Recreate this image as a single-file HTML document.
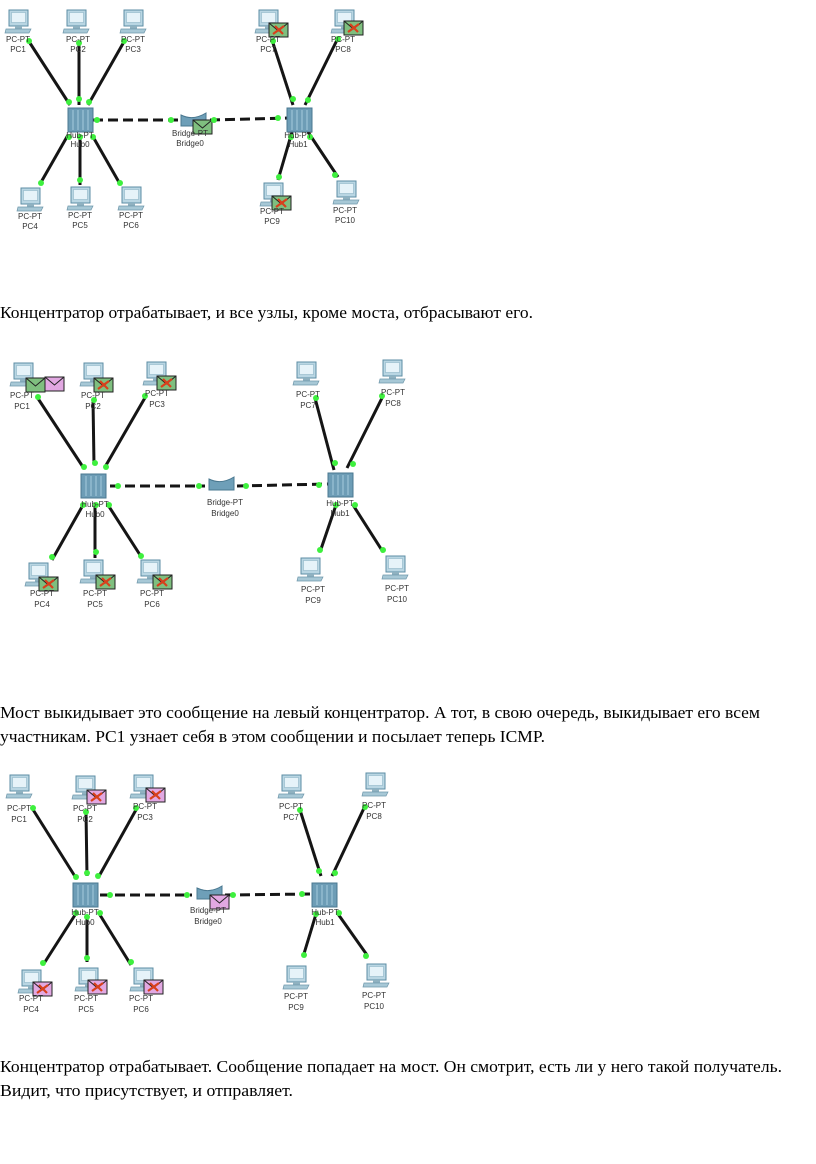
<!DOCTYPE html>
<html><head><meta charset="utf-8"><style>
html,body{margin:0;padding:0;background:#fff;}
svg{display:block}
.l{font-family:"Liberation Sans",sans-serif;font-size:8px;fill:#333;text-anchor:middle}
.t{font-family:"Liberation Serif","Noto Serif CJK SC",serif;font-size:17px;fill:#000}
.w{stroke:#151515;stroke-width:3;fill:none}
.d{stroke:#151515;stroke-width:3;fill:none;stroke-dasharray:10 5}
.g{fill:#3ef03e}
</style></head><body>
<svg width="816" height="1164" viewBox="0 0 816 1164" xmlns="http://www.w3.org/2000/svg">
<defs>
<g id="pc">
<rect x="4" y="0" width="19" height="16" fill="#b9d6e3" stroke="#5d8ea5"/>
<rect x="6.5" y="2.5" width="14" height="10" fill="#e6f3f9" stroke="#8fb5c7" stroke-width="0.6"/>
<rect x="10" y="16" width="7" height="3" fill="#8fb1c0"/>
<polygon points="1,19 26,19 24,23 0,23" fill="#a7c8d6" stroke="#6f97aa" stroke-width="0.7"/>
</g>
<g id="hub">
<rect x="0" y="0" width="25" height="24" fill="#6d9db6" stroke="#4a7890"/>
<path d="M5 2v20M10 2v20M15 2v20M20 2v20" stroke="#9cc3d6" stroke-width="1.2"/>
</g>
<g id="br">
<path d="M0 2 Q12 8 25 0 L25 13 L0 13 Z" fill="#6e9fb8" stroke="#4a7890"/>
</g>
<g id="eg"><rect x="0" y="0" width="19" height="14" fill="#7fbf7f" stroke="#222"/><path d="M0 0L9.5 8L19 0" stroke="#222" fill="none"/></g>
<g id="egx"><use href="#eg"/><path d="M4 11L15 3M6 3L14 11" stroke="#d8401c" stroke-width="2.2"/></g>
<g id="ep"><rect x="0" y="0" width="19" height="14" fill="#e2a8e2" stroke="#222"/><path d="M0 0L9.5 8L19 0" stroke="#222" fill="none"/></g>
<g id="epx"><use href="#ep"/><path d="M4 11L15 3M6 3L14 11" stroke="#d8401c" stroke-width="2.2"/></g>
</defs>

<!-- Diagram 1 -->
<g>
<line class="w" x1="28" y1="40" x2="70" y2="105"/>
<line class="w" x1="79" y1="42" x2="79" y2="105"/>
<line class="w" x1="125" y1="40" x2="88" y2="105"/>
<line class="w" x1="68" y1="135" x2="40" y2="184"/>
<line class="w" x1="80" y1="135" x2="80" y2="185"/>
<line class="w" x1="92" y1="135" x2="120" y2="184"/>
<line class="d" x1="93" y1="120" x2="180" y2="120"/>
<line class="d" x1="210" y1="120" x2="288" y2="118"/>
<line class="w" x1="293" y1="105" x2="272" y2="40"/>
<line class="w" x1="305" y1="105" x2="338" y2="38"/>
<line class="w" x1="292" y1="132" x2="278" y2="180"/>
<line class="w" x1="308" y1="132" x2="338" y2="177"/>
<use href="#pc" x="5" y="10"/><use href="#pc" x="63" y="10"/><use href="#pc" x="120" y="10"/>
<use href="#pc" x="255" y="10"/><use href="#pc" x="331" y="10"/>
<use href="#pc" x="17" y="188"/><use href="#pc" x="67" y="187"/><use href="#pc" x="118" y="187"/>
<use href="#pc" x="260" y="183"/><use href="#pc" x="333" y="181"/>
<use href="#hub" x="68" y="108"/><use href="#hub" x="287" y="108"/>
<use href="#br" x="181" y="113"/>
<use href="#eg" x="193" y="120"/>
<use href="#egx" x="269" y="23"/><use href="#egx" x="344" y="21"/><use href="#egx" x="272" y="196"/>
<g class="g"><circle cx="29" cy="41" r="3"/><circle cx="79" cy="43" r="3"/><circle cx="124" cy="41" r="3"/>
<circle cx="69" cy="102" r="3"/><circle cx="79" cy="99" r="3"/><circle cx="89" cy="102" r="3"/>
<circle cx="97" cy="120" r="3"/><circle cx="171" cy="120" r="3"/><circle cx="214" cy="120" r="3"/><circle cx="278" cy="118" r="3"/>
<circle cx="69" cy="137" r="3"/><circle cx="80" cy="137" r="3"/><circle cx="93" cy="137" r="3"/>
<circle cx="41" cy="183" r="3"/><circle cx="80" cy="180" r="3"/><circle cx="120" cy="183" r="3"/>
<circle cx="273" cy="41" r="3"/><circle cx="338" cy="39" r="3"/><circle cx="293" cy="99" r="3"/><circle cx="308" cy="100" r="3"/>
<circle cx="279" cy="177" r="3"/><circle cx="335" cy="175" r="3"/><circle cx="291" cy="137" r="3"/><circle cx="310" cy="137" r="3"/></g>
<text class="l" x="18" y="42">PC-PT</text><text class="l" x="18" y="52">PC1</text>
<text class="l" x="78" y="42">PC-PT</text><text class="l" x="78" y="52">PC2</text>
<text class="l" x="133" y="42">PC-PT</text><text class="l" x="133" y="52">PC3</text>
<text class="l" x="268" y="42">PC-PT</text><text class="l" x="268" y="52">PC7</text>
<text class="l" x="343" y="42">PC-PT</text><text class="l" x="343" y="52">PC8</text>
<text class="l" x="80" y="138">Hub-PT</text><text class="l" x="80" y="147">Hub0</text>
<text class="l" x="190" y="136">Bridge-PT</text><text class="l" x="190" y="146">Bridge0</text>
<text class="l" x="298" y="138">Hub-PT</text><text class="l" x="298" y="147">Hub1</text>
<text class="l" x="30" y="219">PC-PT</text><text class="l" x="30" y="229">PC4</text>
<text class="l" x="80" y="218">PC-PT</text><text class="l" x="80" y="228">PC5</text>
<text class="l" x="131" y="218">PC-PT</text><text class="l" x="131" y="228">PC6</text>
<text class="l" x="272" y="214">PC-PT</text><text class="l" x="272" y="224">PC9</text>
<text class="l" x="345" y="213">PC-PT</text><text class="l" x="345" y="223">PC10</text>
</g>

<text class="t" x="0" y="318" textLength="533" lengthAdjust="spacingAndGlyphs">Концентратор отрабатывает, и все узлы, кроме моста, отбрасывают его.</text>

<!-- Diagram 2 -->
<g>
<line class="w" x1="37" y1="397" x2="83" y2="467"/>
<line class="w" x1="93" y1="400" x2="94" y2="465"/>
<line class="w" x1="146" y1="396" x2="105" y2="467"/>
<line class="w" x1="83" y1="505" x2="52" y2="560"/>
<line class="w" x1="95" y1="505" x2="95" y2="558"/>
<line class="w" x1="108" y1="505" x2="142" y2="558"/>
<line class="d" x1="110" y1="486" x2="205" y2="486"/>
<line class="d" x1="237" y1="486" x2="328" y2="484"/>
<line class="w" x1="334" y1="470" x2="315" y2="398"/>
<line class="w" x1="347" y1="468" x2="383" y2="396"/>
<line class="w" x1="336" y1="505" x2="320" y2="552"/>
<line class="w" x1="353" y1="505" x2="383" y2="552"/>
<use href="#pc" x="10" y="363"/><use href="#pc" x="80" y="363"/><use href="#pc" x="143" y="362"/>
<use href="#pc" x="293" y="362"/><use href="#pc" x="379" y="360"/>
<use href="#pc" x="25" y="563"/><use href="#pc" x="80" y="560"/><use href="#pc" x="137" y="560"/>
<use href="#pc" x="297" y="558"/><use href="#pc" x="382" y="556"/>
<use href="#hub" x="81" y="474"/><use href="#hub" x="328" y="473"/>
<use href="#br" x="209" y="477"/>
<use href="#eg" x="26" y="378"/><use href="#ep" x="45" y="377"/>
<use href="#egx" x="94" y="378"/><use href="#egx" x="157" y="376"/>
<use href="#egx" x="39" y="577"/><use href="#egx" x="96" y="575"/><use href="#egx" x="153" y="575"/>
<g class="g"><circle cx="38" cy="397" r="3"/><circle cx="94" cy="400" r="3"/><circle cx="145" cy="396" r="3"/>
<circle cx="84" cy="467" r="3"/><circle cx="95" cy="463" r="3"/><circle cx="106" cy="467" r="3"/>
<circle cx="118" cy="486" r="3"/><circle cx="199" cy="486" r="3"/><circle cx="246" cy="486" r="3"/><circle cx="319" cy="485" r="3"/>
<circle cx="83" cy="505" r="3"/><circle cx="96" cy="505" r="3"/><circle cx="109" cy="505" r="3"/>
<circle cx="52" cy="557" r="3"/><circle cx="96" cy="552" r="3"/><circle cx="141" cy="556" r="3"/>
<circle cx="316" cy="398" r="3"/><circle cx="382" cy="396" r="3"/><circle cx="335" cy="463" r="3"/><circle cx="353" cy="464" r="3"/>
<circle cx="320" cy="550" r="3"/><circle cx="383" cy="550" r="3"/><circle cx="336" cy="505" r="3"/><circle cx="355" cy="505" r="3"/></g>
<text class="l" x="22" y="398">PC-PT</text><text class="l" x="22" y="409">PC1</text>
<text class="l" x="93" y="398">PC-PT</text><text class="l" x="93" y="409">PC2</text>
<text class="l" x="157" y="396">PC-PT</text><text class="l" x="157" y="407">PC3</text>
<text class="l" x="308" y="397">PC-PT</text><text class="l" x="308" y="408">PC7</text>
<text class="l" x="393" y="395">PC-PT</text><text class="l" x="393" y="406">PC8</text>
<text class="l" x="95" y="507">Hub-PT</text><text class="l" x="95" y="517">Hub0</text>
<text class="l" x="225" y="505">Bridge-PT</text><text class="l" x="225" y="516">Bridge0</text>
<text class="l" x="340" y="506">Hub-PT</text><text class="l" x="340" y="516">Hub1</text>
<text class="l" x="42" y="596">PC-PT</text><text class="l" x="42" y="607">PC4</text>
<text class="l" x="95" y="596">PC-PT</text><text class="l" x="95" y="607">PC5</text>
<text class="l" x="152" y="596">PC-PT</text><text class="l" x="152" y="607">PC6</text>
<text class="l" x="313" y="592">PC-PT</text><text class="l" x="313" y="603">PC9</text>
<text class="l" x="397" y="591">PC-PT</text><text class="l" x="397" y="602">PC10</text>
</g>

<text class="t" x="0" y="718" textLength="760" lengthAdjust="spacingAndGlyphs">Мост выкидывает это сообщение на левый концентратор. А тот, в свою очередь, выкидывает его всем</text>
<text class="t" x="0" y="742" textLength="545" lengthAdjust="spacingAndGlyphs">участникам. PC1 узнает себя в этом сообщении и посылает теперь ICMP.</text>

<!-- Diagram 3 -->
<g>
<line class="w" x1="32" y1="808" x2="76" y2="878"/>
<line class="w" x1="86" y1="812" x2="87" y2="876"/>
<line class="w" x1="137" y1="808" x2="98" y2="878"/>
<line class="w" x1="75" y1="915" x2="43" y2="965"/>
<line class="w" x1="87" y1="915" x2="87" y2="962"/>
<line class="w" x1="100" y1="915" x2="131" y2="965"/>
<line class="d" x1="100" y1="895" x2="192" y2="895"/>
<line class="d" x1="225" y1="895" x2="312" y2="894"/>
<line class="w" x1="321" y1="876" x2="300" y2="810"/>
<line class="w" x1="332" y1="876" x2="365" y2="806"/>
<line class="w" x1="316" y1="914" x2="303" y2="957"/>
<line class="w" x1="338" y1="914" x2="367" y2="955"/>
<use href="#pc" x="6" y="775"/><use href="#pc" x="72" y="776"/><use href="#pc" x="130" y="775"/>
<use href="#pc" x="278" y="775"/><use href="#pc" x="362" y="773"/>
<use href="#pc" x="18" y="970"/><use href="#pc" x="75" y="968"/><use href="#pc" x="130" y="968"/>
<use href="#pc" x="283" y="966"/><use href="#pc" x="363" y="964"/>
<use href="#hub" x="73" y="883"/><use href="#hub" x="312" y="883"/>
<use href="#br" x="197" y="886"/>
<use href="#ep" x="210" y="895"/>
<use href="#epx" x="87" y="790"/><use href="#epx" x="146" y="788"/>
<use href="#epx" x="33" y="982"/><use href="#epx" x="88" y="980"/><use href="#epx" x="144" y="980"/>
<g class="g"><circle cx="33" cy="808" r="3"/><circle cx="86" cy="812" r="3"/><circle cx="136" cy="808" r="3"/>
<circle cx="76" cy="877" r="3"/><circle cx="87" cy="873" r="3"/><circle cx="98" cy="876" r="3"/>
<circle cx="110" cy="895" r="3"/><circle cx="187" cy="895" r="3"/><circle cx="233" cy="895" r="3"/><circle cx="302" cy="894" r="3"/>
<circle cx="76" cy="913" r="3"/><circle cx="87" cy="917" r="3"/><circle cx="100" cy="913" r="3"/>
<circle cx="43" cy="963" r="3"/><circle cx="87" cy="958" r="3"/><circle cx="131" cy="962" r="3"/>
<circle cx="300" cy="810" r="3"/><circle cx="365" cy="807" r="3"/><circle cx="319" cy="871" r="3"/><circle cx="335" cy="873" r="3"/>
<circle cx="304" cy="955" r="3"/><circle cx="366" cy="956" r="3"/><circle cx="316" cy="914" r="3"/><circle cx="339" cy="913" r="3"/></g>
<text class="l" x="19" y="811">PC-PT</text><text class="l" x="19" y="822">PC1</text>
<text class="l" x="85" y="811">PC-PT</text><text class="l" x="85" y="822">PC2</text>
<text class="l" x="145" y="809">PC-PT</text><text class="l" x="145" y="820">PC3</text>
<text class="l" x="291" y="809">PC-PT</text><text class="l" x="291" y="820">PC7</text>
<text class="l" x="374" y="808">PC-PT</text><text class="l" x="374" y="819">PC8</text>
<text class="l" x="85" y="915">Hub-PT</text><text class="l" x="85" y="925">Hub0</text>
<text class="l" x="208" y="913">Bridge-PT</text><text class="l" x="208" y="924">Bridge0</text>
<text class="l" x="325" y="915">Hub-PT</text><text class="l" x="325" y="925">Hub1</text>
<text class="l" x="31" y="1001">PC-PT</text><text class="l" x="31" y="1012">PC4</text>
<text class="l" x="86" y="1001">PC-PT</text><text class="l" x="86" y="1012">PC5</text>
<text class="l" x="141" y="1001">PC-PT</text><text class="l" x="141" y="1012">PC6</text>
<text class="l" x="296" y="999">PC-PT</text><text class="l" x="296" y="1010">PC9</text>
<text class="l" x="374" y="998">PC-PT</text><text class="l" x="374" y="1009">PC10</text>
</g>

<text class="t" x="0" y="1072" textLength="782" lengthAdjust="spacingAndGlyphs">Концентратор отрабатывает. Сообщение попадает на мост. Он смотрит, есть ли у него такой получатель.</text>
<text class="t" x="0" y="1096" textLength="293" lengthAdjust="spacingAndGlyphs">Видит, что присутствует, и отправляет.</text>
</svg>
</body></html>
